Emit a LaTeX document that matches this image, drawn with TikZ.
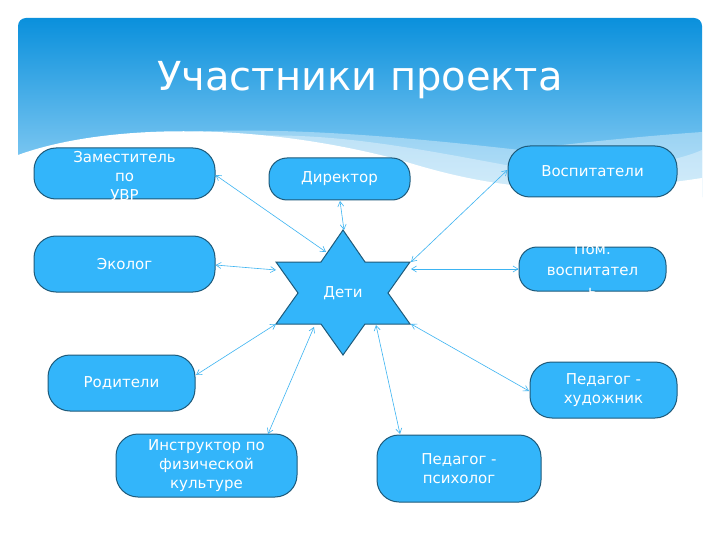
\documentclass[tikz,border=0pt]{standalone}
\usepackage{fontspec}
\setmainfont{DejaVu Sans}
\usetikzlibrary{arrows.meta}
\definecolor{boxfill}{HTML}{33B5FA}
\definecolor{boxline}{HTML}{1E5A7A}
\definecolor{arr}{HTML}{3DB4F2}
\definecolor{hdtop}{HTML}{0A90DC}
\definecolor{hdbot}{HTML}{A0D8F8}
\tikzset{
  pill/.style={draw=boxline, line width=1pt, fill=boxfill, rounded corners=22pt, text=white, font=\fontsize{15}{19}\selectfont, align=center, inner sep=0pt},
  link/.style={draw=arr, line width=0.6pt, {Straight Barb[length=5pt,width=6pt]}-{Straight Barb[length=5pt,width=6pt]}}
}
\begin{document}
\begin{tikzpicture}[x=1pt,y=-1pt]
\useasboundingbox (0,0) rectangle (720,540);
\fill[white] (0,0) rectangle (720,540);
% header
\shade[top color=hdtop, bottom color=hdbot, rounded corners=8pt] (18,18) rectangle (702,205);
\fill[white,opacity=0.35] (18,160) .. controls (150,120) and (300,125) .. (520,150) .. controls (600,140) and (660,135) .. (702,132) -- (702,210) -- (18,210) -- cycle;
\fill[white,opacity=0.35] (200,140) .. controls (320,125) and (420,150) .. (560,175) .. controls (630,170) and (680,160) .. (702,150) -- (702,210) -- (200,210) -- cycle;
\fill[white] (18,155) .. controls (100,125) and (250,120) .. (400,160) .. controls (480,185) and (560,200) .. (702,178) -- (702,215) -- (18,215) -- cycle;
\node[text=white, font=\fontsize{40}{44}\selectfont] (title) at (360,80) {Участники проекта};
% star
\fill[boxfill, draw=boxline, line width=1pt] (343,230) -- (365,262) -- (410,262) -- (388,293) -- (410,324) -- (365,324) -- (343,355) -- (321,324) -- (276,324) -- (298,293) -- (276,262) -- (321,262) -- cycle;
\node[text=white, font=\fontsize{15}{19}\selectfont] (c) at (343,293) {Дети};
% boxes
\node[pill, minimum width=181pt, minimum height=51pt] (zam) at (124.5,173.5) {};
\node[text=white, font=\fontsize{15}{19}\selectfont, align=center] at (124.5,176) {Заместитель\\по\\УВР};
\node[pill, minimum width=141pt, minimum height=42pt, rounded corners=18pt] (dir) at (339.5,179) {Директор};
\node[pill, minimum width=169pt, minimum height=51pt] (vos) at (592.5,171.5) {Воспитатели};
\node[pill, minimum width=181pt, minimum height=56pt] (eko) at (124.5,264) {Эколог};
\node[pill, minimum width=147pt, minimum height=44pt, rounded corners=18pt] (pom) at (592.5,269) {};
\node[text=white, font=\fontsize{15}{21}\selectfont, align=center] at (592.5,270) {Пом.\\воспитател\\ь};
\node[pill, minimum width=147pt, minimum height=56pt] (rod) at (121.5,383) {Родители};
\node[pill, minimum width=181pt, minimum height=63pt] (ins) at (206.5,465.5) {Инструктор по\\физической\\культуре};
\node[pill, minimum width=164pt, minimum height=67pt] (psy) at (459,468.5) {Педагог -\\психолог};
\node[pill, minimum width=147pt, minimum height=56pt] (hud) at (603.5,390) {Педагог -\\художник};
% anchors on star
\coordinate (s1) at (326,252);
\coordinate (s2) at (344,230);
\coordinate (s3) at (411,262);
\coordinate (s4) at (276,270);
\coordinate (s5) at (411,269);
\coordinate (s6) at (276,324);
\coordinate (s7) at (314,327);
\coordinate (s8) at (376,325);
\coordinate (s9) at (411,324);
\draw[link] (zam.east) ++(0,1.5) coordinate (z1) (z1) -- (s1);
\draw[link] (340,201) coordinate (d1) -- (s2);
\draw[link] (vos.west) ++(0,-1.5) coordinate (v1) (v1) -- (s3);
\draw[link] (eko.east) ++(0,1) coordinate (e1) (e1) -- (s4);
\draw[link] (s5) -- (pom.west);
\draw[link] (196,375) coordinate (r1) -- (s6);
\draw[link] (268,434) coordinate (i1) -- (s7);
\draw[link] (400,434) coordinate (p1) -- (s8);
\draw[link] (529,391) coordinate (h1) -- (s9);
\end{tikzpicture}
\end{document}
